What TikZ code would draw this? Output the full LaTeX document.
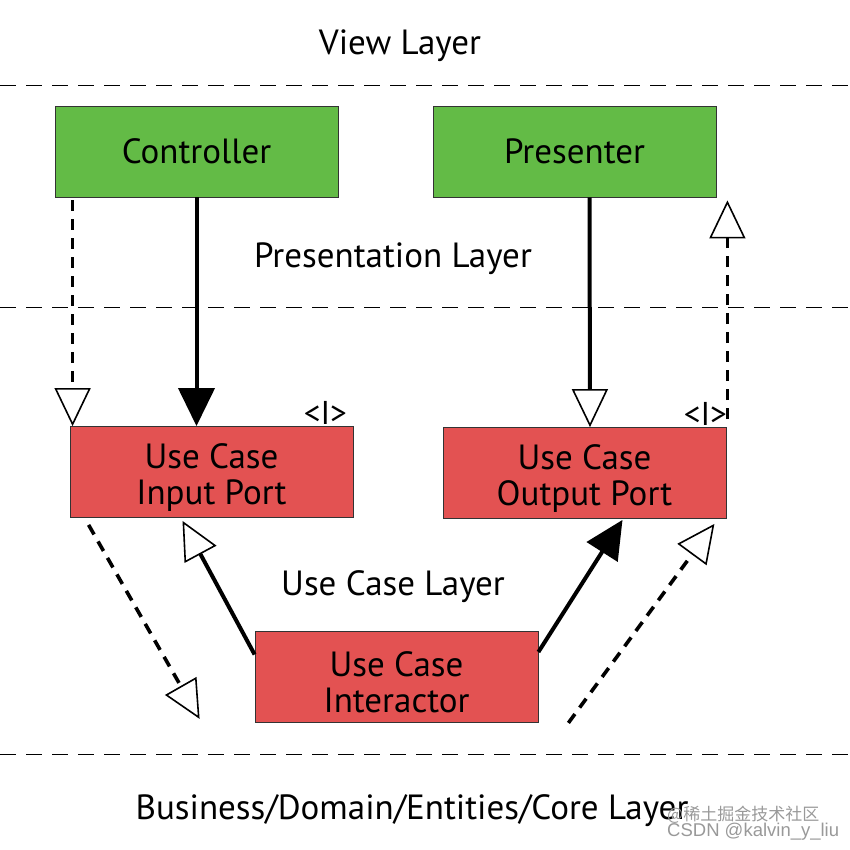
\documentclass[tikz,border=0pt]{standalone}
\usepackage{fontspec}
\setmainfont{PT Sans}
\newfontfamily\cjk{Noto Sans CJK SC}
\newfontfamily\markfont{Liberation Sans}
\usetikzlibrary{arrows.meta,calc}

\definecolor{boxgreen}{RGB}{99,187,70}
\definecolor{boxred}{RGB}{227,82,82}

\begin{document}
\begin{tikzpicture}[
  x=1pt, y=-1pt,
  every node/.style={font=\fontsize{35}{36}\selectfont},
  cbox/.style={draw=black!80, line width=0.8pt, minimum width=283pt, minimum height=91pt, inner sep=0pt, align=center},
  ctrlbox/.style={cbox, fill=boxgreen},
  portbox/.style={cbox, fill=boxred, text height=71pt},
  layer/.style={dash pattern=on 16pt off 10pt, line width=0.9pt},
  impl/.style={line width=3.6pt, dash pattern=on 11pt off 8pt, -{Triangle[open, length=38pt, width=36pt, line width=1.6pt]}},
  uses/.style={line width=4pt, -{Triangle[open, length=38pt, width=36pt, line width=1.6pt]}},
  calls/.style={line width=4pt, -{Triangle[length=38pt, width=36pt]}},
  iface/.style={font=\fontsize{33}{33}\selectfont, anchor=south, inner sep=0pt},
  wmark/.style={text=black!40, anchor=west, inner sep=0pt},
]
\useasboundingbox (0,0) rectangle (850,850);

% layer borders
\draw [layer] (0,85) -- (850,85);
\draw [layer] (0,307) -- (850,307);
\draw [layer] (0,754) -- (850,754);

\node (view) at (400,46) {View Layer};
\node (pres layer) at (393,259) {Presentation Layer};
\node (uc layer) at (393,587) {Use Case Layer};
\node (core) at (412,811) {Business/Domain/Entities/Core Layer};

\node [ctrlbox] (ctrl) at (196.5,151.5) {Controller};
\node [ctrlbox] (pres) at (574.5,151.5) {Presenter};
\node [portbox] (inport) at (211.5,472) {Use Case\\Input Port};
\node [portbox] (outport) at (584.5,473) {Use Case\\Output Port};
\node [portbox] (inter) at (396.5,677) {Use Case\\Interactor};

\node [iface] (inport i) at ($(inport.north east)+(-28,-1)$) {<I>};
\node [iface] (outport i) at ($(outport.north east)+(-21,-1)$) {<I>};

% connectors
\draw [impl] ($(ctrl.south west)+(18,3)$) -- ($(inport.north west)+(3,0)$);
\draw [calls] (ctrl.south) -- (ctrl.south |- inport.north);
\draw [uses] ($(pres.south)+(15,0)$) -- ($(outport.north)+(5.5,0)$);
\draw [impl] ($(outport.north east)+(1,-8)$) -- ($(pres.south east)+(11,3)$);

\draw [uses] (inter.171) -- ($(inport.south)+(-29,3)$);
\draw [impl] ($(inport.south west)+(19,7)$) -- ($(inter.south west)+(-55,-4)$);
\draw [calls] (inter.10) -- ($(outport.south)+(38,1)$);
\draw [impl] ($(inter.south east)+(30,0)$) -- ($(outport.south east)+(-12,5)$);

% watermark
\node [wmark, font=\cjk\fontsize{17}{17}\selectfont] (mark1) at (667,815) {@稀土掘金技术社区};
\node [wmark, font=\markfont\fontsize{18.5}{18.5}\selectfont] (mark2) at (667,832) {CSDN @kalvin\_y\_liu};

\end{tikzpicture}
\end{document}
